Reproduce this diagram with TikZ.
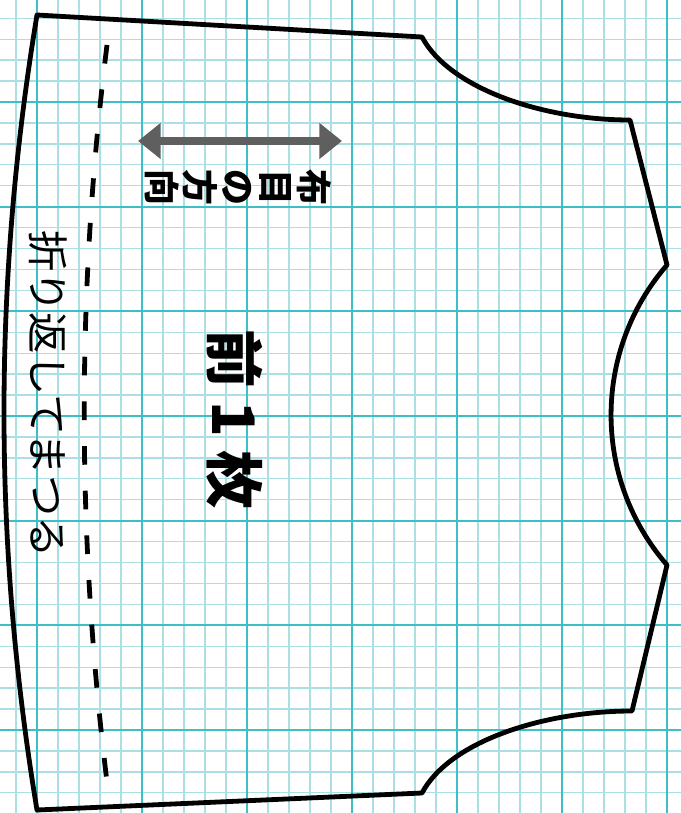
\documentclass[tikz,border=0pt]{standalone}
\usepackage{fontspec}
\newfontfamily\jp{Noto Sans CJK JP}
\usetikzlibrary{arrows.meta}
\definecolor{gridmajor}{RGB}{62,190,198}
\definecolor{gridminor}{RGB}{170,224,228}
\definecolor{arrowgray}{RGB}{95,95,95}
\begin{document}
\begin{tikzpicture}[x=0.75pt,y=-0.75pt,
  minorline/.style={draw=gridminor,line width=1pt},
  majorline/.style={draw=gridmajor,line width=1.7pt},
  outline/.style={draw=black,line width=3.6pt,line join=round},
  foldline/.style={draw=black,line width=3.6pt,dash pattern=on 14pt off 19.5pt},
  grainarrow/.style={draw=arrowgray,line width=6pt,{Triangle[length=17pt,width=26pt]}-{Triangle[length=17pt,width=26pt]}},
  jptext/.style={text=black,inner sep=0pt}
]
\fill[white] (0,0) rectangle (681,813);
\useasboundingbox (0,0) rectangle (681,813);
\begin{scope}
\clip (0,0) rectangle (681,813);
\foreach \i in {-2,...,31} { \draw[minorline] ({37+21*\i},0) -- ({37+21*\i},813); }
\foreach \i in {-5,...,34} { \draw[minorline] (0,{102+20.933*\i}) -- (681,{102+20.933*\i}); }
\foreach \i in {0,...,6} { \draw[majorline] ({37+105*\i},0) -- ({37+105*\i},813); }
\foreach \i in {-1,...,7} { \draw[majorline] (0,{102+104.67*\i}) -- (681,{102+104.67*\i}); }
\end{scope}
% pattern outline
\draw[outline] (37,15) -- (422,37)
  .. controls (449,88) and (542,120) .. (630,120)
  -- (667,265)
  .. controls (592.4,351) and (592.4,479) .. (667,565)
  -- (632,711)
  .. controls (542,711) and (449,742) .. (422,793)
  -- (37,810)
  .. controls (-7,545) and (-7,280) .. (37,15) -- cycle;
% fold line
\coordinate (ft) at (107,45);
\coordinate (fb) at (108,790);
\draw[foldline] (ft) .. controls (76.3,293) and (76.7,541) .. (fb);
% grain arrow
\coordinate (gl) at (138,141);
\coordinate (gr) at (342,141);
\draw[grainarrow] (gl) -- (gr);
% texts
\node[jptext, rotate=-90, align=center, font=\jp\bfseries\fontsize{27}{28.5}\selectfont] (grain) at (238,188) {布\\目\\の\\方\\向};
\node[jptext, rotate=-90, font=\jp\bfseries\fontsize{44}{44}\selectfont] (title) at (235,419) {前 1 枚};
\node[jptext, rotate=-90, font=\jp\fontsize{31}{31}\selectfont] (fold) at (48,394) {折り返してまつる};
\end{tikzpicture}
\end{document}
